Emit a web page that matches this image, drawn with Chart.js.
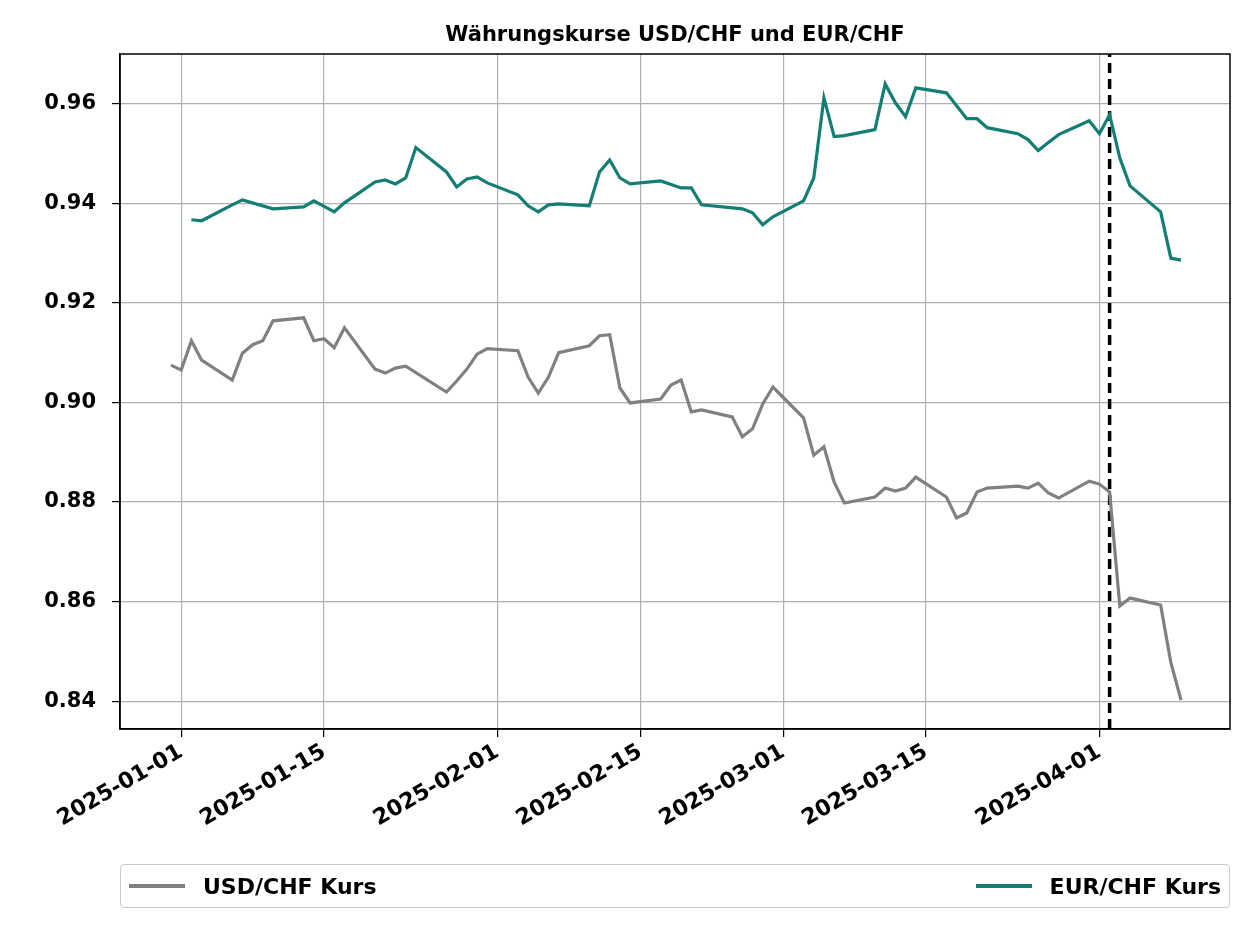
<!DOCTYPE html>
<html>
<head>
<meta charset="utf-8">
<script src="https://cdn.jsdelivr.net/npm/chart.js@4"></script>
<style>
  body{margin:0;background:#fff;font-family:"DejaVu Sans",sans-serif;}
  #wrap{position:relative;width:1254px;height:940px;}
  #legend{position:absolute;left:120px;top:864px;width:1110px;height:44px;border:1px solid #ccc;border-radius:4px;
    display:flex;justify-content:space-between;align-items:center;font-weight:bold;font-size:22px;box-sizing:border-box;padding:0 8px;}
  .item{display:flex;align-items:center;}
  .sw{display:inline-block;width:56px;height:4px;margin-right:18px;}
</style>
</head>
<body>
<div id="wrap">
<canvas id="mychart1" width="1254" height="940"></canvas>
<div id="legend">
  <span class="item"><span class="sw" style="background:#808080"></span>USD/CHF Kurs</span>
  <span class="item"><span class="sw" style="background:#127e74"></span>EUR/CHF Kurs</span>
</div>
</div>
<script>
var usdDates = ["2024-12-31","2025-01-01","2025-01-02","2025-01-03","2025-01-06","2025-01-07","2025-01-08","2025-01-09","2025-01-10",
  "2025-01-13","2025-01-14","2025-01-15","2025-01-16","2025-01-17","2025-01-20","2025-01-21","2025-01-22","2025-01-23",
  "2025-01-27","2025-01-28","2025-01-29","2025-01-30","2025-01-31","2025-02-03","2025-02-04","2025-02-05","2025-02-06","2025-02-07",
  "2025-02-10","2025-02-11","2025-02-12","2025-02-13","2025-02-14","2025-02-17","2025-02-18","2025-02-19","2025-02-20","2025-02-21",
  "2025-02-24","2025-02-25","2025-02-26","2025-02-27","2025-02-28","2025-03-03","2025-03-04","2025-03-05","2025-03-06","2025-03-07",
  "2025-03-10","2025-03-11","2025-03-12","2025-03-13","2025-03-14","2025-03-17","2025-03-18","2025-03-19","2025-03-20","2025-03-21",
  "2025-03-24","2025-03-25","2025-03-26","2025-03-27","2025-03-28","2025-03-31","2025-04-01","2025-04-02","2025-04-03","2025-04-04",
  "2025-04-07","2025-04-08","2025-04-09"];
var usdValues = [0.9075,0.9065,0.9124,0.9085,0.9045,0.9099,0.9116,0.9124,0.9164,
  0.9170,0.9124,0.9128,0.9110,0.9150,0.9067,0.9059,0.9069,0.9073,
  0.9021,0.9043,0.9067,0.9097,0.9108,0.9104,0.9051,0.9019,0.9051,0.9100,
  0.9114,0.9134,0.9136,0.9029,0.8999,0.9007,0.9035,0.9045,0.8981,0.8985,
  0.8971,0.8931,0.8947,0.8997,0.9031,0.8969,0.8894,0.8911,0.8840,0.8798,
  0.8810,0.8828,0.8822,0.8828,0.8850,0.8810,0.8768,0.8778,0.8820,0.8828,
  0.8832,0.8828,0.8838,0.8818,0.8808,0.8842,0.8836,0.8820,0.8591,0.8607,
  0.8593,0.8478,0.8402];
var eurDates = ["2025-01-02","2025-01-03","2025-01-06","2025-01-07","2025-01-10","2025-01-13","2025-01-14","2025-01-16","2025-01-17",
  "2025-01-20","2025-01-21","2025-01-22","2025-01-23","2025-01-24","2025-01-27","2025-01-28","2025-01-29","2025-01-30","2025-01-31",
  "2025-02-03","2025-02-04","2025-02-05","2025-02-06","2025-02-07","2025-02-10","2025-02-11","2025-02-12","2025-02-13","2025-02-14",
  "2025-02-17","2025-02-19","2025-02-20","2025-02-21","2025-02-25","2025-02-26","2025-02-27","2025-02-28","2025-03-03","2025-03-04",
  "2025-03-05","2025-03-06","2025-03-07","2025-03-10","2025-03-11","2025-03-12","2025-03-13","2025-03-14","2025-03-17","2025-03-19",
  "2025-03-20","2025-03-21","2025-03-24","2025-03-25","2025-03-26","2025-03-27","2025-03-28","2025-03-31","2025-04-01","2025-04-02",
  "2025-04-03","2025-04-04","2025-04-07","2025-04-08","2025-04-09"];
var eurValues = [0.9367,0.9365,0.9397,0.9407,0.9389,0.9393,0.9405,0.9383,0.9401,
  0.9443,0.9447,0.9439,0.9451,0.9512,0.9463,0.9433,0.9449,0.9453,0.9441,
  0.9417,0.9395,0.9383,0.9397,0.9399,0.9395,0.9463,0.9487,0.9451,0.9439,
  0.9445,0.9431,0.9431,0.9397,0.9389,0.9381,0.9357,0.9373,0.9405,0.9451,
  0.9612,0.9534,0.9536,0.9548,0.9640,0.9602,0.9574,0.9632,0.9622,0.9570,
  0.9570,0.9552,0.9540,0.9528,0.9506,0.9522,0.9538,0.9566,0.9540,0.9578,
  0.9491,0.9435,0.9383,0.9290,0.9286];
var markerDate = "2025-04-02";
var xTickDates = ["2025-01-01","2025-01-15","2025-02-01","2025-02-15","2025-03-01","2025-03-15","2025-04-01"];
var yTicks = [0.84,0.86,0.88,0.90,0.92,0.94,0.96];

var base = Date.UTC(2025,0,1);
function dayOf(s){ var p = s.split("-"); return (Date.UTC(+p[0],p[1]-1,+p[2]) - base)/86400000; }
function dateOf(d){ return new Date(base + d*86400000).toISOString().slice(0,10); }
function pts(ds,vs){ return ds.map(function(d,i){ return {x:dayOf(d), y:vs[i]}; }); }

var frame = {
  id:'frame',
  afterDraw:function(c){
    var ctx=c.ctx, a=c.chartArea;
    ctx.save();
    ctx.strokeStyle='#000'; ctx.lineWidth=1.5;
    ctx.strokeRect(a.left,a.top,a.right-a.left,a.bottom-a.top);
    ctx.fillStyle='#000'; ctx.font='bold 21px "DejaVu Sans"'; ctx.textAlign='center';
    ctx.fillText('Währungskurse USD/CHF und EUR/CHF',(a.left+a.right)/2,41);
    ctx.restore();
  }
};

var ctx = document.getElementById("mychart1").getContext('2d');
var tickFont = {family:'"DejaVu Sans"', size:22, weight:'bold'};
var mychart = new Chart(ctx,{
  type:'line',
  data:{datasets:[
    {label:'USD/CHF Kurs', data:pts(usdDates,usdValues), borderColor:'#808080', borderWidth:3.2, pointRadius:0, tension:0},
    {label:'EUR/CHF Kurs', data:pts(eurDates,eurValues), borderColor:'#127e74', borderWidth:3.2, pointRadius:0, tension:0},
    {label:'marker', data:[{x:dayOf(markerDate),y:0.8344},{x:dayOf(markerDate),y:0.970}], borderColor:'#000', borderWidth:3.5, borderDash:[10,6], pointRadius:0}
  ]},
  options:{
    responsive:false, animation:false,
    layout:{padding:{top:54,right:24,left:0,bottom:0}},
    plugins:{legend:{display:false}, tooltip:{enabled:false}},
    scales:{
      x:{type:'linear', min:-6, max:102.8,
        afterBuildTicks:function(s){ s.ticks = xTickDates.map(function(d){ return {value:dayOf(d)}; }); },
        afterFit:function(s){ s.height = 211; },
        ticks:{callback:function(v){ return dateOf(v); }, font:tickFont, color:'#000', minRotation:30, maxRotation:30, padding:2},
        grid:{color:'#b0b0b0', lineWidth:1.2, tickLength:8, tickColor:'#000'},
        border:{color:'#000', width:1.5}},
      y:{min:0.8344, max:0.970,
        afterBuildTicks:function(s){ s.ticks = yTicks.map(function(v){ return {value:v}; }); },
        afterFit:function(s){ s.width = 120; },
        ticks:{callback:function(v){ return v.toFixed(2); }, font:{family:'"DejaVu Sans"', size:21, weight:'bold'}, color:'#000', padding:16},
        grid:{color:'#b0b0b0', lineWidth:1.2, tickLength:8, tickColor:'#000'},
        border:{color:'#000', width:1.5}}
    }
  },
  plugins:[frame]
});
</script>
</body>
</html>
